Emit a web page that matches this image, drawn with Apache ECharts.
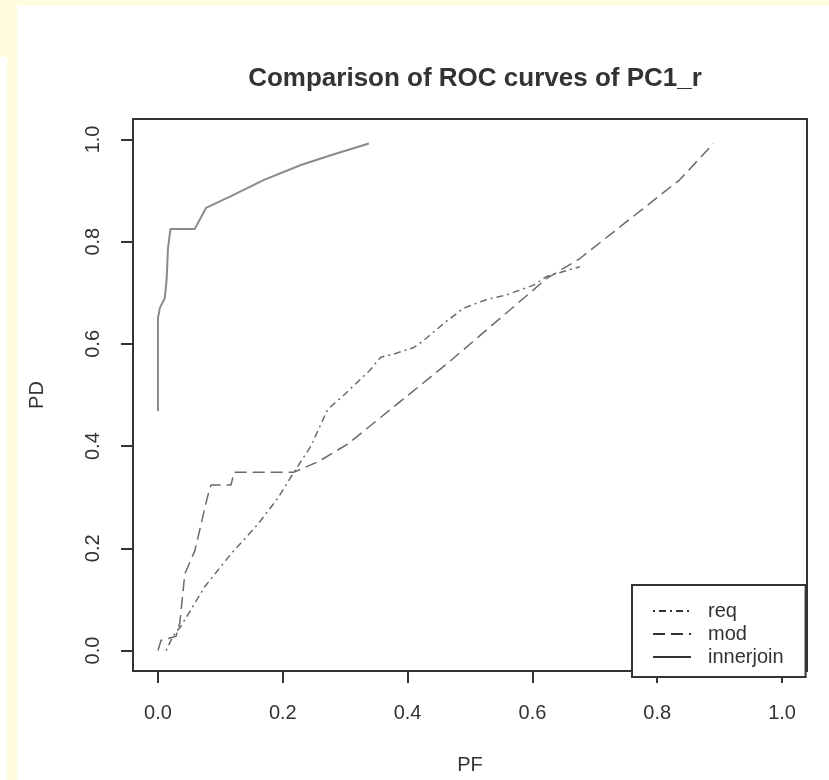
<!DOCTYPE html>
<html>
<head>
<meta charset="utf-8">
<script src="https://cdn.jsdelivr.net/npm/echarts@6/dist/echarts.min.js"></script>
<style>
  body { margin: 0; background: #fffce0; }
  .panel { position: absolute; background: #fff; }
  #main { position: absolute; left: 0; top: 0; width: 829px; height: 780px; }
</style>
</head>
<body>
<div class="panel" style="left:17px;top:6px;width:812px;height:774px;"></div>
<div class="panel" style="left:0;top:57px;width:7px;height:723px;"></div>
<div id="main"></div>
<script>
// ROC curve points (PF = false positive rate, PD = detection rate)
const reqPF = [0.013, 0.024, 0.037, 0.075, 0.117, 0.16, 0.192, 0.218, 0.245, 0.272, 0.298, 0.34, 0.357, 0.378, 0.41, 0.426, 0.463, 0.49, 0.527, 0.559, 0.602, 0.623, 0.676];
const reqPD = [0.0, 0.028, 0.048, 0.125, 0.189, 0.247, 0.298, 0.349, 0.4, 0.472, 0.5, 0.549, 0.574, 0.58, 0.593, 0.607, 0.645, 0.67, 0.687, 0.696, 0.715, 0.732, 0.751];

const modPF = [0, 0.005, 0.029, 0.035, 0.043, 0.059, 0.08, 0.085, 0.117, 0.122, 0.218, 0.256, 0.304, 0.463, 0.623, 0.676, 0.756, 0.836, 0.89];
const modPD = [0, 0.02, 0.028, 0.054, 0.15, 0.195, 0.304, 0.324, 0.324, 0.349, 0.349, 0.369, 0.404, 0.561, 0.728, 0.767, 0.844, 0.921, 0.992];

const innerPF = [0, 0, 0.003, 0.011, 0.014, 0.016, 0.02, 0.059, 0.077, 0.117, 0.17, 0.229, 0.277, 0.338];
const innerPD = [0.468, 0.651, 0.67, 0.69, 0.728, 0.786, 0.825, 0.825, 0.866, 0.889, 0.921, 0.95, 0.969, 0.992];

const ticks = [0, 0.2, 0.4, 0.6, 0.8, 1.0];
const seriesNames = ['req', 'mod', 'innerjoin'];

function pairs(xs, ys) {
  return xs.map((x, i) => [x, ys[i]]);
}

const font = 'Liberation Sans, Arial, sans-serif';
const ink = '#333';

let chart = echarts.init(document.getElementById('main'));

function axis(extra) {
  return Object.assign({
    type: 'value',
    min: -0.04,
    max: 1.04,
    splitLine: { show: false },
    axisLine: { show: true, onZero: false, lineStyle: { color: ink, width: 2 } },
    axisTick: { show: true, inside: false, length: 12, customValues: ticks, lineStyle: { color: ink, width: 2 } },
    nameLocation: 'middle',
    nameTextStyle: { fontFamily: font, fontSize: 20, color: ink }
  }, extra);
}

chart.setOption({
  animation: false,
  title: {
    text: 'Comparison of ROC curves of PC1_r',
    left: 470,
    top: 61,
    textAlign: 'center',
    textStyle: { fontFamily: font, fontSize: 26, fontWeight: 'bold', color: ink }
  },
  grid: {
    left: 133, top: 119, width: 674, height: 559,
    containLabel: false,
    show: true,
    borderColor: ink,
    borderWidth: 2,
    backgroundColor: '#fff'
  },
  legend: {
    data: seriesNames,
    orient: 'vertical',
    left: 632,
    top: 585,
    padding: [16, 22, 10, 20],
    itemWidth: 38,
    itemHeight: 14,
    itemGap: 3,
    borderColor: ink,
    borderWidth: 2,
    backgroundColor: '#fff',
    itemStyle: { color: 'transparent', borderWidth: 0, opacity: 0 },
    lineStyle: { color: ink, width: 2 },
    textStyle: { fontFamily: font, fontSize: 20, lineHeight: 20, color: ink, padding: [0, 0, 0, 12] }
  },
  xAxis: axis({
    name: 'PF',
    nameGap: 84,
    axisLabel: { customValues: ticks, margin: 32, fontFamily: font, fontSize: 20, color: ink,
      formatter: v => v.toFixed(1) }
  }),
  yAxis: axis({
    name: 'PD',
    nameGap: 86,
    axisLabel: { customValues: ticks, rotate: 90, margin: 30, fontFamily: font, fontSize: 20, color: ink,
      formatter: v => v.toFixed(1) }
  }),
  series: [
    {
      name: 'req', type: 'line', symbol: 'none', data: pairs(reqPF, reqPD),
      lineStyle: { color: '#6a6a6a', width: 1.5, type: [2, 4, 7, 4] },
      itemStyle: { color: '#6a6a6a' }
    },
    {
      name: 'mod', type: 'line', symbol: 'none', data: pairs(modPF, modPD),
      lineStyle: { color: '#6a6a6a', width: 1.5, type: [12, 6] },
      itemStyle: { color: '#6a6a6a' }
    },
    {
      name: 'innerjoin', type: 'line', symbol: 'none', data: pairs(innerPF, innerPD),
      lineStyle: { color: '#8a8a8a', width: 2 },
      itemStyle: { color: '#8a8a8a' }
    }
  ]
});
</script>
</body>
</html>
